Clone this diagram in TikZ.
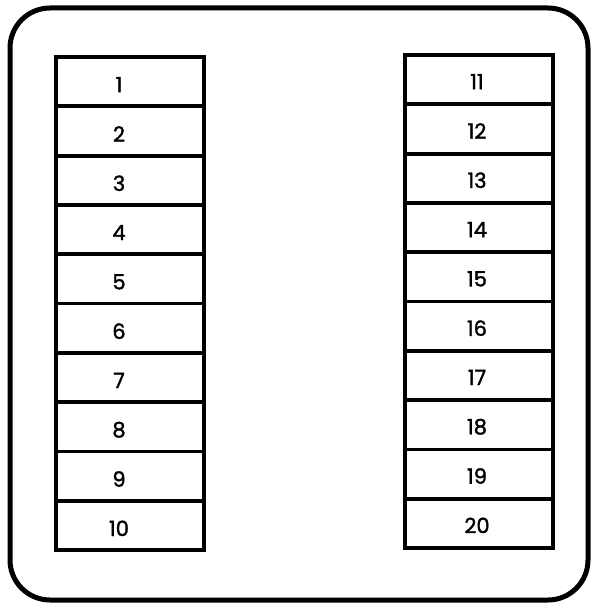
\documentclass[tikz,border=0pt]{standalone}
\usepackage{fontspec}
\setmainfont{Poppins}
\newfontfamily\labelfont[FakeBold=1.6]{Poppins}
\begin{document}
\begin{tikzpicture}[x=1pt,y=-1pt,
  fusebox/.style={draw=black, line width=3.8pt, minimum width=148pt, minimum height=49.3pt, inner sep=0pt},
  fuselabel/.style={font=\labelfont\fontsize{21}{22}\selectfont, inner sep=0pt},
  outerbox/.style={draw=black, line width=5pt, rounded corners=40pt}]
\useasboundingbox (0,0) rectangle (600,610);
\fill[white] (0,0) rectangle (600,610);
\draw[outerbox] (10,8) rectangle (588,600);
\foreach \i in {1,...,10} {
  \node[fusebox] (L\i) at (130,{57+49.3*(\i-0.5)}) {};
  \node[fuselabel] (tL\i) at (119,{57+49.3*(\i-0.5)+3}) {\i};
}
\foreach \i in {11,...,20} {
  \node[fusebox] (R\i) at (479,{55+49.3*(\i-10.5)}) {};
  \node[fuselabel] (tR\i) at (477,{55+49.3*(\i-10.5)+2}) {\i};
}
\end{tikzpicture}
\end{document}
